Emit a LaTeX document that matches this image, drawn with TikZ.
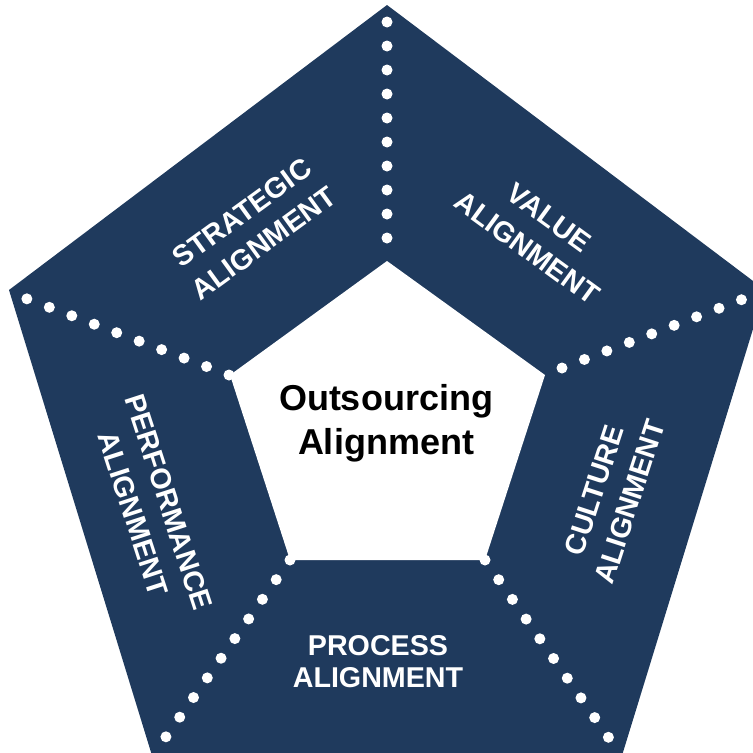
\documentclass[tikz,border=0pt]{standalone}
\usepackage{fontspec}
\setmainfont{Liberation Sans}
\definecolor{navyblue}{RGB}{31,58,93}
\tikzset{
  sidetext/.style={text=white, font=\bfseries\fontsize{21.5}{28}\selectfont, align=center, inner sep=0pt},
  dotrow/.style={white, line width=8.25pt, line cap=round, dash pattern=on 0pt off 18pt},
}
\begin{document}
\begin{tikzpicture}[x=0.75pt,y=0.75pt,yscale=-1,xscale=1]
    \useasboundingbox (0,0) rectangle (753,753);
    \clip (0,0) rectangle (753,753);
    %Shape: Outer Pentagon
    \coordinate (o1) at (387,5);
    \coordinate (o2) at (765,290);
    \coordinate (o3) at (620,762);
    \coordinate (o4) at (154,762);
    \coordinate (o5) at (9,290);
    \fill[navyblue] (o1) -- (o2) -- (o3) -- (o4) -- (o5) -- cycle;
    %Shape: Inner Pentagon
    \coordinate (i1) at (387,261);
    \coordinate (i2) at (545,375);
    \coordinate (i3) at (485,560);
    \coordinate (i4) at (290,560);
    \coordinate (i5) at (230,375);
    \fill[white] (i1) -- (i2) -- (i3) -- (i4) -- (i5) -- cycle;
    %Dotted Lines
    \coordinate (d1a) at (387,238); \coordinate (d1b) at (387,16);
    \coordinate (d2a) at (562,368); \coordinate (d2b) at (746,298);
    \coordinate (d3a) at (485,560); \coordinate (d3b) at (611,741);
    \coordinate (d4a) at (290,560); \coordinate (d4b) at (163,741);
    \coordinate (d5a) at (229,375); \coordinate (d5b) at (22,297);
    \draw[dotrow] (d1a) -- (d1b);
    \draw[dotrow] (d2a) -- (d2b);
    \draw[dotrow] (d3a) -- (d3b);
    \draw[dotrow] (d4a) -- (d4b);
    \draw[dotrow] (d5a) -- (d5b);
    % Text Node
    \node (centre) [font=\bfseries\fontsize{27}{33}\selectfont, align=center, inner sep=0pt] at (386,423) {Outsourcing\\Alignment};
    % Text Node
    \node (strategic) [sidetext, rotate=36] at (253,228) {STRATEGIC\\ALIGNMENT};
    % Text Node
    \node (value) [sidetext, rotate=-36] at (538,233) {VALUE\\ALIGNMENT};
    % Text Node
    \node (culture) [sidetext, rotate=72] at (612,496) {CULTURE\\ALIGNMENT};
    % Text Node
    \node (process) [sidetext, font=\bfseries\fontsize{21.5}{24}\selectfont] at (378,662) {PROCESS\\ALIGNMENT};
    % Text Node
    \node (performance) [sidetext, rotate=-72] at (151,508) {PERFORMANCE\\ALIGNMENT};
\end{tikzpicture}
\end{document}
